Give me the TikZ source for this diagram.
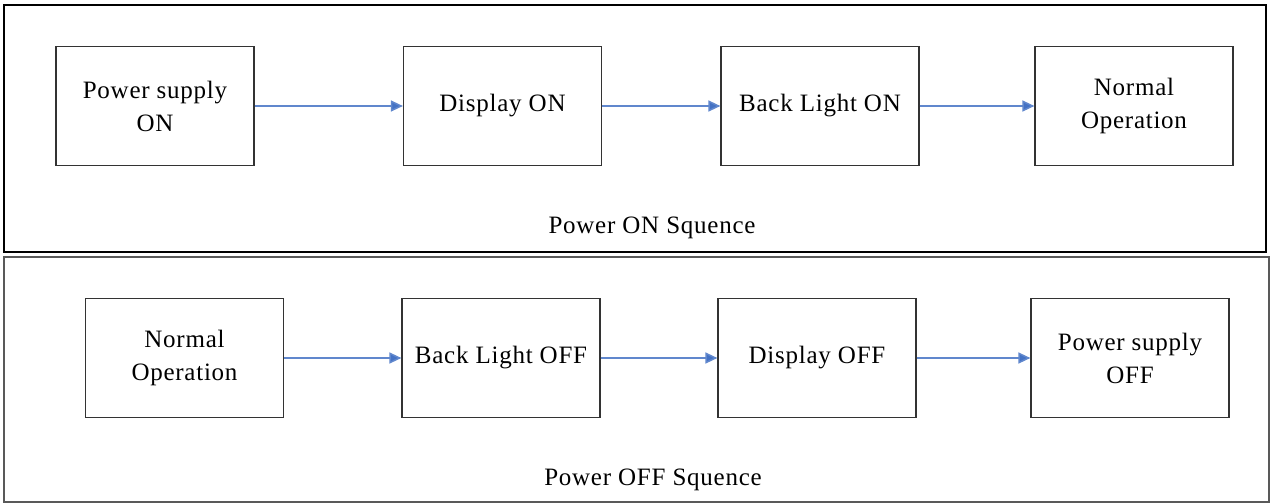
\documentclass[tikz,border=0pt]{standalone}
\usepackage{fontspec}
\setmainfont{Liberation Serif}[LetterSpace=3]
\usetikzlibrary{arrows.meta}
\definecolor{arrowblue}{HTML}{4472C4}
\begin{document}
\begin{tikzpicture}[x=0.5pt,y=-0.5pt,
  stepbox/.style={draw=black!80,line width=0.6pt,minimum width=99pt,minimum height=59.5pt,
    inner sep=0pt,align=center,font=\fontsize{12.5}{16.5}\selectfont},
  flow/.style={draw=arrowblue!85,line width=0.75pt,-{Triangle[length=6pt,width=5.5pt,fill=arrowblue]}},
  panel/.style={draw=black,line width=0.6pt},
  caption/.style={font=\fontsize{12.5}{15}\selectfont,anchor=base}]
\useasboundingbox (0,0) rectangle (1271,503);
% power on sequence
\draw [panel] (4,5) rectangle (1266,252);
\node[stepbox] (on1) at (155,106) {Power supply\\ON};
\node[stepbox] (on2) at (502.5,106) {Display ON};
\node[stepbox] (on3) at (820,106) {Back Light ON};
\node[stepbox] (on4) at (1134,106) {Normal\\Operation};
\draw [flow] (on1) -- (on2);
\draw [flow] (on2) -- (on3);
\draw [flow] (on3) -- (on4);
\node[caption] (oncap) at (652,233) {Power ON Squence};
% power off sequence
\draw [panel,draw=black!65] (4,257) rectangle (1269,502);
\node[stepbox] (off1) at (184.5,358) {Normal\\Operation};
\node[stepbox] (off2) at (501,358) {Back Light OFF};
\node[stepbox] (off3) at (817,358) {Display OFF};
\node[stepbox] (off4) at (1130,358) {Power supply\\OFF};
\draw [flow] (off1) -- (off2);
\draw [flow] (off2) -- (off3);
\draw [flow] (off3) -- (off4);
\node[caption] (offcap) at (653,485) {Power OFF Squence};
\end{tikzpicture}
\end{document}
